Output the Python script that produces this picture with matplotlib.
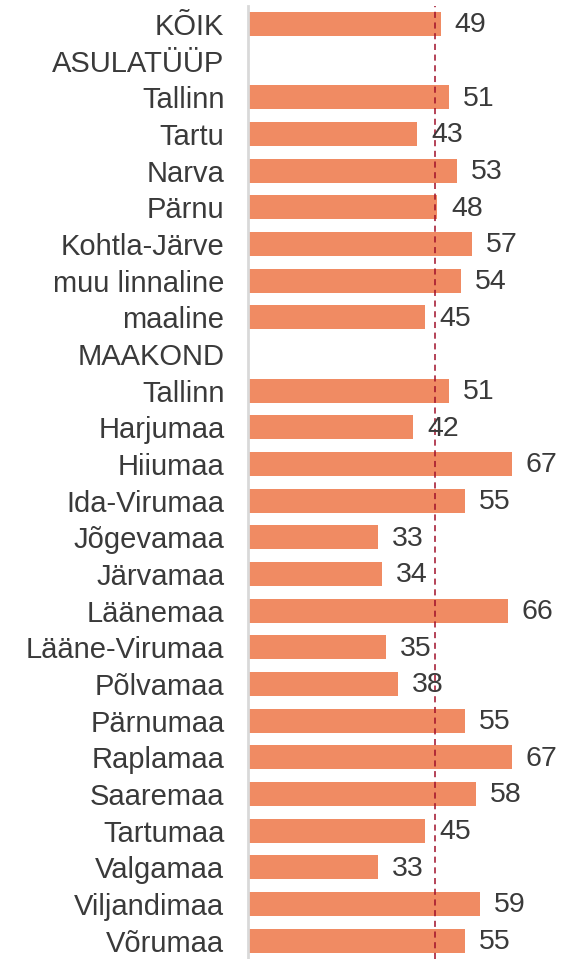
import numpy as np
import matplotlib
matplotlib.use('Agg')
import matplotlib.pyplot as plt

plt.rcParams['font.family'] = ['Liberation Sans', 'DejaVu Sans']

kategooriad = ['KÕIK', 'ASULATÜÜP', 'Tallinn', 'Tartu', 'Narva', 'Pärnu',
               'Kohtla-Järve', 'muu linnaline', 'maaline', 'MAAKOND',
               'Tallinn', 'Harjumaa', 'Hiiumaa', 'Ida-Virumaa', 'Jõgevamaa',
               'Järvamaa', 'Läänemaa', 'Lääne-Virumaa', 'Põlvamaa',
               'Pärnumaa', 'Raplamaa', 'Saaremaa', 'Tartumaa', 'Valgamaa',
               'Viljandimaa', 'Võrumaa']
vaartused = [49, None, 51, 43, 53, 48, 57, 54, 45, None,
             51, 42, 67, 55, 33, 34, 66, 35, 38, 55, 67, 58, 45, 33, 59, 55]
keskmine = 47.5

fig = plt.figure(figsize=(5.73, 9.59), dpi=100)
ax = fig.add_axes([248 / 573, 0.0, 315 / 573, 0.994])

y = np.arange(len(kategooriad))
for i, v in enumerate(vaartused):
    if v is None:
        continue
    ax.barh(i, v, height=0.65, color='#F08B63')
    ax.annotate(str(v), (v, i), xytext=(10, -1), textcoords='offset points',
                va='center', ha='left', fontsize=20.5, color='#3A3A3A')

ax.axvline(keskmine, color='#A0102A', lw=1.1, ls=(0, (4, 3)))

ax.set_xlim(0, 80)
ax.set_ylim(len(kategooriad) - 0.5, -0.5)
ax.set_yticks(y)
ax.set_yticklabels(kategooriad, fontsize=21, color='#3A3A3A')
ax.tick_params(axis='y', length=0, pad=17)
ax.set_xticks([])
for s in ['top', 'right', 'bottom']:
    ax.spines[s].set_visible(False)
ax.spines['left'].set_color('#D9D9D9')
ax.spines['left'].set_linewidth(2)

fig.savefig('out.png', dpi=100)
